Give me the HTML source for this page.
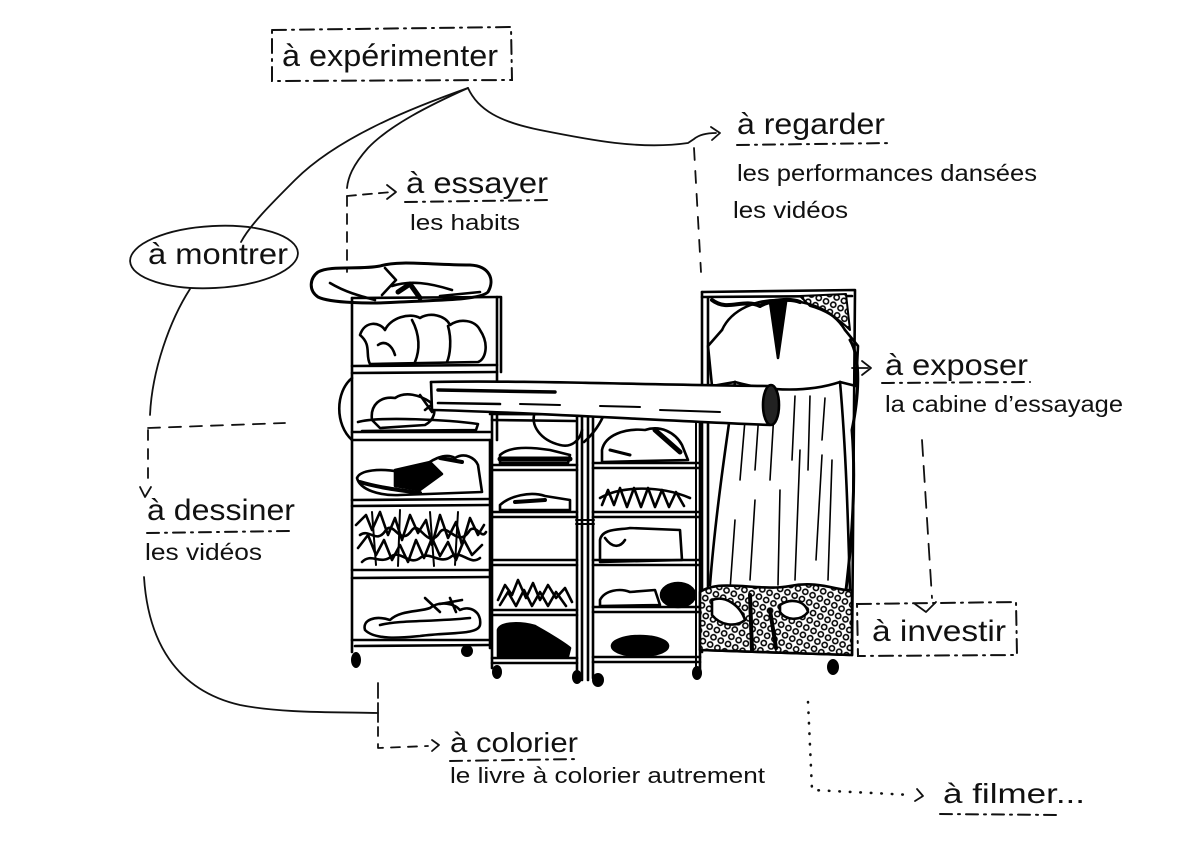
<!DOCTYPE html>
<html><head><meta charset="utf-8">
<style>
html,body{margin:0;padding:0;background:#fff;width:1200px;height:849px;overflow:hidden}
svg{display:block}
text{font-family:"Liberation Sans",sans-serif;fill:#111}
</style></head><body>
<svg width="1200" height="849" viewBox="0 0 1200 849" xmlns="http://www.w3.org/2000/svg">
<defs>
<pattern id="net" width="8" height="8" patternUnits="userSpaceOnUse" patternTransform="rotate(25)">
<rect width="8" height="8" fill="#fff"/>
<circle cx="4" cy="4" r="2.6" fill="none" stroke="#000" stroke-width="1.6"/>
</pattern>
</defs>

<!-- ============ LABELS ============ -->
<g fill="none" stroke="#111" stroke-width="2" stroke-linecap="round">
  <path d="M272,30 L511,27 L512,80 L272,81 Z" stroke-dasharray="14 6 2 6"/>
  <path d="M405,202 L550,200" stroke-dasharray="12 6 2 6"/>
  <path d="M737,145 L892,143" stroke-dasharray="12 6 2 6"/>
  <path d="M882,383 L1030,382" stroke-dasharray="12 6 2 6"/>
  <path d="M147,533 L290,531" stroke-dasharray="12 6 2 6"/>
  <path d="M450,761 L578,759" stroke-dasharray="12 6 2 6"/>
  <path d="M940,814 L1060,815" stroke-dasharray="12 6 2 6"/>
  <path d="M857,604 L1016,602 L1017,655 L858,656 Z" stroke-dasharray="14 6 2 6"/>
</g>

<g fill="none" stroke="#111" stroke-width="1.8" stroke-linecap="round" stroke-linejoin="round">
  <path d="M468,88 C420,105 340,135 295,180 C270,205 250,225 241,242"/>
  <path d="M468,88 C430,105 390,125 368,148 C352,166 348,178 347,188"/>
  <path d="M468,88 C478,110 500,122 540,130 C590,140 640,150 688,143 L694,139 C700,134 708,133 716,133"/>
  <path d="M711,127 L720,133 L712,140"/>
  <path d="M347,196 L347,272" stroke-dasharray="10 8"/>
  <path d="M347,196 L392,192" stroke-dasharray="9 7"/>
  <path d="M387,185 L396,192 L387,199"/>
  <path d="M694,148 L701,272" stroke-dasharray="12 11"/>
  <ellipse cx="214" cy="257" rx="84" ry="31" transform="rotate(-3 214 257)"/>
  <path d="M190,289 C170,320 152,370 150,415"/>
  <path d="M148,430 L148,485" stroke-dasharray="10 9"/>
  <path d="M148,428 L285,423" stroke-dasharray="12 9"/>
  <path d="M140,487 L145,497 L151,487"/>
  <path d="M144,577 C148,640 175,690 240,705 C280,713 330,712 378,713"/>
  <path d="M378,703 L378,722"/>
  <path d="M378,683 L378,698" />
  <path d="M378,727 L378,748 L428,746" stroke-dasharray="9 8"/>
  <path d="M432,740 L439,745 L432,751"/>
  <path d="M808,702 L812,790 L912,795" stroke-dasharray="0.5 10" stroke-width="2.6"/>
  <path d="M917,789 L923,796 L915,801"/>
  <path d="M852,368 L868,368"/>
  <path d="M862,361 L871,368 L862,375"/>
  <path d="M922,440 L932,598" stroke-dasharray="16 10"/>
  <path d="M915,604 L926,612 L936,602"/>
</g>

<text x="282" y="66" font-size="31" textLength="216" lengthAdjust="spacingAndGlyphs">à expérimenter</text>
<text x="406" y="193" font-size="30" textLength="142" lengthAdjust="spacingAndGlyphs">à essayer</text>
<text x="410" y="230" font-size="22" textLength="110" lengthAdjust="spacingAndGlyphs">les habits</text>
<text x="737" y="134" font-size="30" textLength="148" lengthAdjust="spacingAndGlyphs">à regarder</text>
<text x="737" y="181" font-size="23" textLength="300" lengthAdjust="spacingAndGlyphs">les performances dansées</text>
<text x="733" y="218" font-size="23" textLength="115" lengthAdjust="spacingAndGlyphs">les vidéos</text>
<text x="148" y="264" font-size="30" textLength="140" lengthAdjust="spacingAndGlyphs">à montrer</text>
<text x="885" y="375" font-size="30" textLength="143" lengthAdjust="spacingAndGlyphs">à exposer</text>
<text x="885" y="412" font-size="23" textLength="238" lengthAdjust="spacingAndGlyphs">la cabine d’essayage</text>
<text x="872" y="641" font-size="30" textLength="134" lengthAdjust="spacingAndGlyphs">à investir</text>
<text x="147" y="520" font-size="30" textLength="148" lengthAdjust="spacingAndGlyphs">à dessiner</text>
<text x="145" y="560" font-size="23" textLength="117" lengthAdjust="spacingAndGlyphs">les vidéos</text>
<text x="450" y="752" font-size="28" textLength="128" lengthAdjust="spacingAndGlyphs">à colorier</text>
<text x="450" y="783" font-size="22" textLength="315" lengthAdjust="spacingAndGlyphs">le livre à colorier autrement</text>
<text x="943" y="803" font-size="28" textLength="142" lengthAdjust="spacingAndGlyphs">à filmer...</text>

<!-- ============ DRAWING ============ -->
<g fill="none" stroke="#000" stroke-width="2.6" stroke-linecap="round" stroke-linejoin="round">
  <!-- top pile -->
  <path d="M318,272 C330,265 360,270 380,266 C400,260 430,265 470,265 C490,266 495,280 488,292 C480,300 440,300 400,302 C370,304 330,303 318,297 C308,290 310,278 318,272 Z" stroke-width="3"/>
  <path d="M330,283 C345,292 360,296 375,300"/>
  <path d="M385,268 L396,280 L382,295"/>
  <path d="M392,286 C410,280 430,283 452,290"/>
  <path d="M398,292 L410,284 L420,298" stroke-width="5"/>
  <path d="M440,296 L480,292"/>

  <!-- left unit frame -->
  <path d="M352,298 L352,652"/>
  <path d="M352,298 L500,297"/>
  <path d="M497,297 L497,440"/>
  <path d="M501,297 L501,372"/>
  <path d="M352,366 L497,365"/><path d="M352,373 L497,372"/>
  <path d="M352,432 L490,432"/><path d="M352,440 L490,440"/>
  <path d="M352,500 L490,499"/><path d="M352,506 L490,505"/>
  <path d="M352,570 L490,570"/><path d="M352,578 L490,577"/>
  <path d="M352,640 L490,640"/><path d="M355,646 L490,645"/>
  <path d="M490,440 L490,648"/>
  <path d="M352,378 C335,392 335,425 352,440"/>

  <!-- shelf 1 shirts -->
  <path d="M360,335 C365,320 380,322 385,330 C390,318 410,312 420,318 C430,312 445,315 450,325 C460,318 475,320 480,330 C490,345 485,360 478,362 L370,364 C365,355 372,345 360,335 Z"/>
  <path d="M412,320 C420,335 420,350 415,362"/>
  <path d="M448,326 C452,340 450,355 447,362"/>
  <path d="M378,345 C385,340 392,345 395,355"/>
  <!-- shelf 2 -->
  <path d="M372,420 C370,405 380,396 395,398 C405,391 420,395 430,402 C438,410 434,420 425,425 L380,428 Z"/>
  <path d="M358,422 C380,416 450,420 478,424 L476,430 L362,431"/>
  <path d="M420,395 L432,412 M425,410 L440,398"/>

  <!-- shelf 3 sandals -->
  <path d="M357,478 C360,470 380,468 400,472 L420,470 C430,460 445,452 455,458 C465,452 475,458 478,465 L482,492 L400,495 C380,496 360,490 357,478 Z"/>
  <path d="M395,470 L430,462 L442,474 L420,490 L395,486 Z" fill="#000"/>
  <path d="M360,482 C380,488 400,490 420,493" stroke-width="4"/>
  <path d="M440,458 L462,462" stroke-width="4"/>

  <!-- shelf 4 scribble -->
  <path d="M356,525 L366,515 L372,530 L380,512 L388,535 L395,518 L402,540 L410,515 L418,533 L426,520 L432,545 L440,515 L448,538 L456,522 L462,545 L470,518 L478,535 L484,525"/>
  <path d="M358,548 L368,535 L376,555 L384,540 L392,560 L400,545 L408,562 L416,540 L424,558 L432,538 L440,556 L448,542 L456,560 L464,540 L472,555 L482,545"/>
  <path d="M360,535 C370,528 376,545 386,530 C394,520 400,548 412,530 C420,520 428,552 440,532 C448,522 458,550 470,530 C476,524 482,540 486,532"/>
  <path d="M362,562 C372,552 380,566 392,556 C400,550 410,566 420,558 C430,550 440,566 452,556 C462,550 470,566 480,558"/>
  <path d="M372,512 L376,565 M400,510 L398,566 M430,512 L434,566 M458,512 L455,565" stroke-width="2"/>

  <!-- shelf 5 flat garment -->
  <path d="M365,630 C362,620 375,615 390,620 C400,610 420,612 430,608 C440,600 455,604 460,610 C470,605 482,612 480,625 C478,635 450,632 420,636 C400,638 375,640 365,630 Z"/>
  <path d="M380,625 C400,620 430,622 470,618"/>
  <path d="M425,598 L440,612 M450,598 L456,612 M440,604 L462,600"/>

  <!-- middle units -->
  <path d="M492,412 L492,668"/>
  <path d="M577,405 L577,678"/><path d="M582,400 L582,680"/>
  <path d="M588,400 L588,680"/><path d="M593,405 L593,678"/>
  <path d="M700,412 L700,670"/><path d="M696,420 L696,668" stroke-width="2"/>
  <path d="M490,414 L700,415"/>
  <path d="M492,420 L575,421"/>
  <path d="M492,465 L577,465"/><path d="M492,470 L577,470"/>
  <path d="M492,512 L577,512"/><path d="M492,517 L577,517"/>
  <path d="M492,560 L577,560"/><path d="M492,565 L577,565"/>
  <path d="M492,610 L577,610"/><path d="M492,615 L577,615"/>
  <path d="M492,658 L577,658"/><path d="M492,663 L577,663"/>
  <path d="M593,463 L700,463"/><path d="M593,468 L700,468"/>
  <path d="M593,512 L700,512"/><path d="M593,517 L700,517"/>
  <path d="M593,560 L700,560"/><path d="M593,565 L700,565"/>
  <path d="M593,607 L700,607"/><path d="M593,612 L700,612"/>
  <path d="M593,657 L700,657"/><path d="M593,662 L700,662"/>
  <path d="M535,412 C530,425 540,440 560,445 C572,448 580,440 582,430"/>
  <path d="M605,412 C600,425 592,435 584,442"/>
  <path d="M582,400 L582,415"/>
  <path d="M576,520 L594,520 M576,524 L594,524" stroke-width="2"/>

  <!-- left-middle contents -->
  <path d="M500,455 C510,446 530,447 550,450 L570,455 L568,463 L500,463 Z"/>
  <path d="M500,459 L570,459" stroke-width="5"/>
  <path d="M500,505 C510,496 530,491 545,496 L570,500 L570,510 L500,510 Z"/>
  <path d="M515,502 L545,500" stroke-width="4"/>
  <path d="M498,600 L505,585 L512,595 L518,580 L526,598 L533,583 L540,600 L548,585 L556,598 L565,588 L572,602"/>
  <path d="M500,605 L508,592 L516,606 L524,590 L532,606 L540,592 L548,606 L556,592 L566,606"/>
  <path d="M498,630 C500,622 520,622 535,626 C545,632 560,640 570,648 L568,656 L498,656 Z" fill="#000"/>

  <!-- right-middle contents -->
  <path d="M602,450 C605,435 625,428 645,430 C660,425 675,432 682,445 L688,460 L602,462 Z"/>
  <path d="M655,430 L680,452" stroke-width="5"/>
  <path d="M610,450 L630,455" stroke-width="3"/>
  <path d="M602,505 L608,490 L614,505 L620,488 L627,507 L634,488 L641,507 L648,488 L655,507 L662,490 L669,507 L676,492 L684,506"/>
  <path d="M600,498 C620,486 660,485 690,498"/>
  <path d="M600,540 C602,528 620,530 630,528 L680,530 L682,560 L600,562 Z"/>
  <path d="M605,538 C612,548 620,548 625,540"/>
  <path d="M600,600 C605,590 620,588 630,592 L655,590 L660,605 L600,606 Z"/>
  <ellipse cx="678" cy="595" rx="17" ry="12" fill="#000"/>
  <ellipse cx="640" cy="646" rx="28" ry="10" fill="#000"/>

  <!-- right cabin frame -->
  <path d="M702,292 L855,290 L852,655"/>
  <path d="M702,297 L852,296"/>
  <path d="M702,292 L702,652"/>
  <path d="M708,298 L708,650"/>
  <path d="M700,650 L850,655"/>

  <!-- dress -->
  <path d="M712,300 C728,312 742,298 760,306 C770,300 790,298 800,302" stroke-width="4"/>
  <path d="M800,296 L846,294 L850,330 C838,318 825,310 810,306 Z" fill="url(#net)" stroke-width="2"/>
  <path d="M722,330 C732,308 758,300 778,300 C805,300 832,308 845,330"/>
  <path d="M722,330 L708,346 L712,386 L735,382"/>
  <path d="M845,330 L858,346 L856,386 L840,382"/>
  <path d="M735,382 C770,392 810,392 840,382"/>
  <path d="M770,302 L778,358 L786,302 Z" fill="#000"/>
  <path d="M735,382 C725,450 715,520 710,585"/>
  <path d="M840,382 C846,450 848,520 850,590"/>
  <g stroke-width="1.6">
    <path d="M760,398 L755,470"/><path d="M775,395 L770,480"/>
    <path d="M795,396 L792,460"/><path d="M810,396 L808,470"/>
    <path d="M822,455 L816,560"/><path d="M800,450 L795,580"/>
    <path d="M780,490 L778,585"/><path d="M755,500 L750,580"/>
    <path d="M735,520 L730,590"/><path d="M832,460 L828,580"/>
    <path d="M745,420 L740,480"/><path d="M825,398 L822,440"/>
  </g>
  <path d="M850,340 C862,360 858,400 852,430 C856,480 852,540 846,590" stroke-width="3"/>

  <!-- tube (drawn over dress) -->
  <path d="M431,382 L770,386 L770,425 L432,410 Z" fill="#fff" stroke="none"/>
  <path d="M431,382 C520,380 650,385 770,386"/>
  <path d="M432,410 C520,412 650,420 770,425"/>
  <path d="M431,382 L432,410"/>
  <ellipse cx="771" cy="405" rx="8" ry="20" fill="#222"/>
  <path d="M438,390 L555,392" stroke-width="3.5"/>
  <path d="M438,403 L500,404"/>
  <path d="M520,404 L560,405 M600,406 L640,407 M660,410 L720,412" stroke-width="2"/>

  <!-- bottom pile -->
  <path d="M700,592 C720,578 760,592 790,586 C820,580 840,592 852,590 L852,655 L700,650 Z" fill="url(#net)"/>
  <path d="M712,600 C725,595 740,605 745,620 C735,628 720,625 712,615 Z" fill="#fff"/>
  <path d="M780,605 C790,598 805,600 808,612 C800,622 785,620 780,612 Z" fill="#fff"/>
  <path d="M750,595 L752,650" stroke-width="4"/>
  <path d="M770,610 L776,648" stroke-width="4"/>

  <!-- wheels -->
  <g fill="#000" stroke="none">
    <ellipse cx="356" cy="660" rx="5" ry="8"/>
    <ellipse cx="467" cy="651" rx="6" ry="6"/>
    <ellipse cx="497" cy="672" rx="5" ry="7"/>
    <ellipse cx="577" cy="677" rx="5" ry="7"/>
    <ellipse cx="598" cy="680" rx="6" ry="7"/>
    <ellipse cx="697" cy="673" rx="5" ry="7"/>
    <ellipse cx="833" cy="667" rx="6" ry="8"/>
  </g>
</g>
</svg>
</body></html>
